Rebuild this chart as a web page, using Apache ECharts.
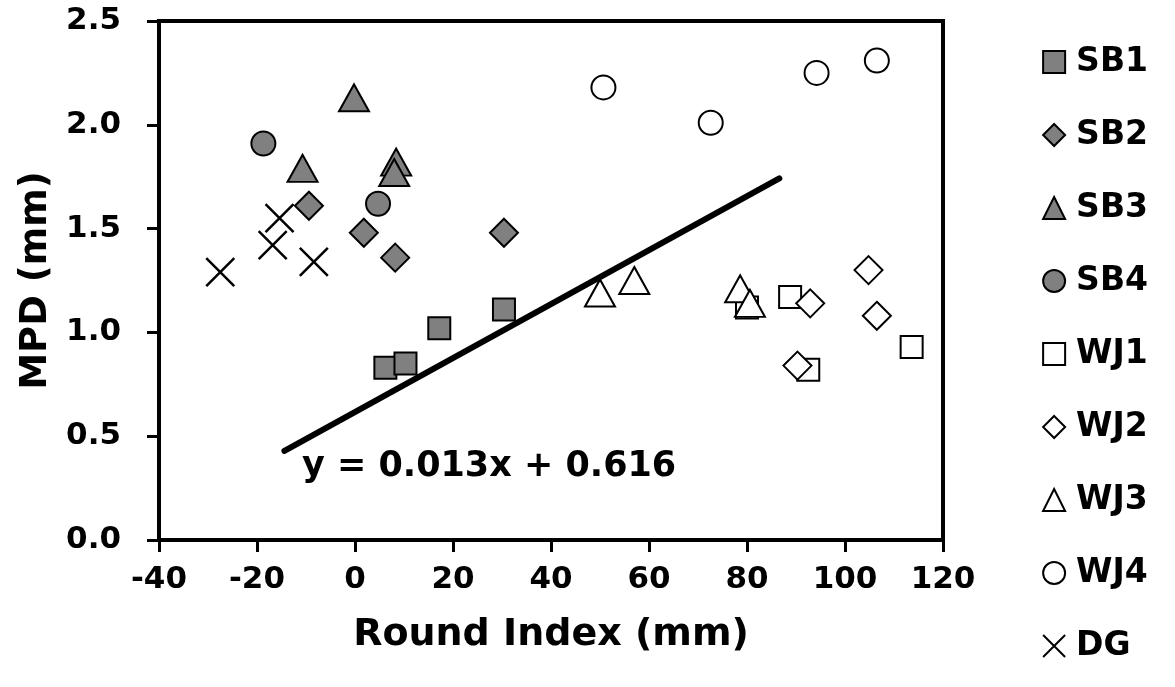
<!DOCTYPE html>
<html>
<head>
<meta charset="utf-8">
<script src="https://cdn.jsdelivr.net/npm/echarts@6/dist/echarts.min.js"></script>
<style>
  html, body { margin: 0; padding: 0; background: #fff; }
  #chart { width: 1175px; height: 687px; }
</style>
</head>
<body>
<div id="chart"></div>
<script>
// data: [Round Index, MPD]
const sb1 = [[6.2, 0.83], [10.3, 0.85], [17.2, 1.02], [30.4, 1.11]];
const sb2 = [[-9.4, 1.61], [1.8, 1.48], [8.2, 1.36], [30.4, 1.48]];
const sb3 = [[-0.2, 2.13], [-10.7, 1.79], [8.4, 1.82], [8.0, 1.77]];
const sb4 = [[-18.7, 1.91], [4.7, 1.62]];
const wj1 = [[80.0, 1.12], [88.8, 1.17], [113.6, 0.93], [92.5, 0.82]];
const wj2 = [[92.9, 1.14], [104.8, 1.30], [106.5, 1.08], [90.3, 0.84]];
const wj3 = [[50.0, 1.19], [57.0, 1.25], [78.6, 1.21], [80.6, 1.14]];
const wj4 = [[50.7, 2.18], [72.6, 2.01], [94.2, 2.25], [106.5, 2.31]];
const dg = [[-27.5, 1.29], [-16.8, 1.42], [-15.4, 1.55], [-8.4, 1.34]];
// fitted line end points
const trendX = [-14.4, 86.6];
const trendY = [0.429, 1.742];
const equation = 'y = 0.013x + 0.616';

const FONT = 'DejaVu Sans';
const GRAY = '#808080';
const CROSS = 'path://M0,0L10,10M10,0L0,10';

function scatter(name, data, symbol, size, filled) {
    return {
        name: name,
        type: 'scatter',
        data: data.map(p => p.slice()),
        symbol: symbol,
        symbolSize: size,
        itemStyle: {
            color: filled ? GRAY : '#fff',
            borderColor: '#000',
            borderWidth: 2,
            opacity: 1
        },
        z: 3
    };
}

const chart = echarts.init(document.getElementById('chart'));
chart.setOption({
    animation: false,
    backgroundColor: '#fff',
    textStyle: {fontFamily: FONT},
    grid: {
        left: 159,
        right: 232,
        top: 21,
        bottom: 147,
        show: true,
        borderColor: '#000',
        borderWidth: 4
    },
    legend: {
        orient: 'vertical',
        right: 22,
        top: 40,
        itemWidth: 22,
        itemHeight: 22,
        itemGap: 39,
        textStyle: {
            fontFamily: FONT, fontWeight: 'bold', fontSize: 33, color: '#000',
            lineHeight: 34, padding: [0, 0, 0, 6]
        },
        data: ['SB1', 'SB2', 'SB3', 'SB4', 'WJ1', 'WJ2', 'WJ3', 'WJ4', 'DG']
    },
    xAxis: {
        type: 'value',
        min: -40,
        max: 120,
        interval: 20,
        name: 'Round Index (mm)',
        nameLocation: 'middle',
        nameGap: 76,
        nameTextStyle: {fontFamily: FONT, fontWeight: 'bold', fontSize: 38, color: '#000'},
        axisLine: {show: true, onZero: false, lineStyle: {color: '#000', width: 4}},
        axisTick: {show: true, inside: false, length: 12, lineStyle: {color: '#000', width: 3}},
        axisLabel: {fontFamily: FONT, fontWeight: 'bold', fontSize: 31, color: '#000', margin: 24},
        splitLine: {show: false}
    },
    yAxis: {
        type: 'value',
        min: 0,
        max: 2.5,
        interval: 0.5,
        name: 'MPD (mm)',
        nameLocation: 'middle',
        nameGap: 100,
        nameTextStyle: {fontFamily: FONT, fontWeight: 'bold', fontSize: 37, color: '#000'},
        axisLine: {show: true, onZero: false, lineStyle: {color: '#000', width: 4}},
        axisTick: {show: true, inside: false, length: 12, lineStyle: {color: '#000', width: 3}},
        axisLabel: {
            fontFamily: FONT, fontWeight: 'bold', fontSize: 31, color: '#000', margin: 38,
            formatter: v => v.toFixed(1)
        },
        splitLine: {show: false}
    },
    graphic: [{
        type: 'text',
        left: 302,
        top: 449,
        style: {
            text: equation,
            font: 'bold 35px "DejaVu Sans"',
            fill: '#000'
        },
        z: 10
    }],
    series: [
        {
            name: 'trend',
            type: 'line',
            data: trendX.map((x, i) => [x, trendY[i]]),
            symbol: 'none',
            lineStyle: {color: '#000', width: 6, cap: 'round'},
            z: 2,
            silent: true
        },
        scatter('SB1', sb1, 'rect', 22, true),
        scatter('SB2', sb2, 'diamond', 28, true),
        scatter('SB3', sb3, 'triangle', [30, 27], true),
        scatter('SB4', sb4, 'circle', 24, true),
        scatter('WJ1', wj1, 'rect', 22, false),
        scatter('WJ2', wj2, 'diamond', 28, false),
        scatter('WJ3', wj3, 'triangle', [30, 27], false),
        scatter('WJ4', wj4, 'circle', 24, false),
        {
            name: 'DG',
            type: 'scatter',
            data: dg.map(p => p.slice()),
            symbol: CROSS,
            symbolSize: 28,
            itemStyle: {color: '#000', borderColor: '#000', borderWidth: 2.5, opacity: 1},
            z: 3
        }
    ]
});
</script>
</body>
</html>
